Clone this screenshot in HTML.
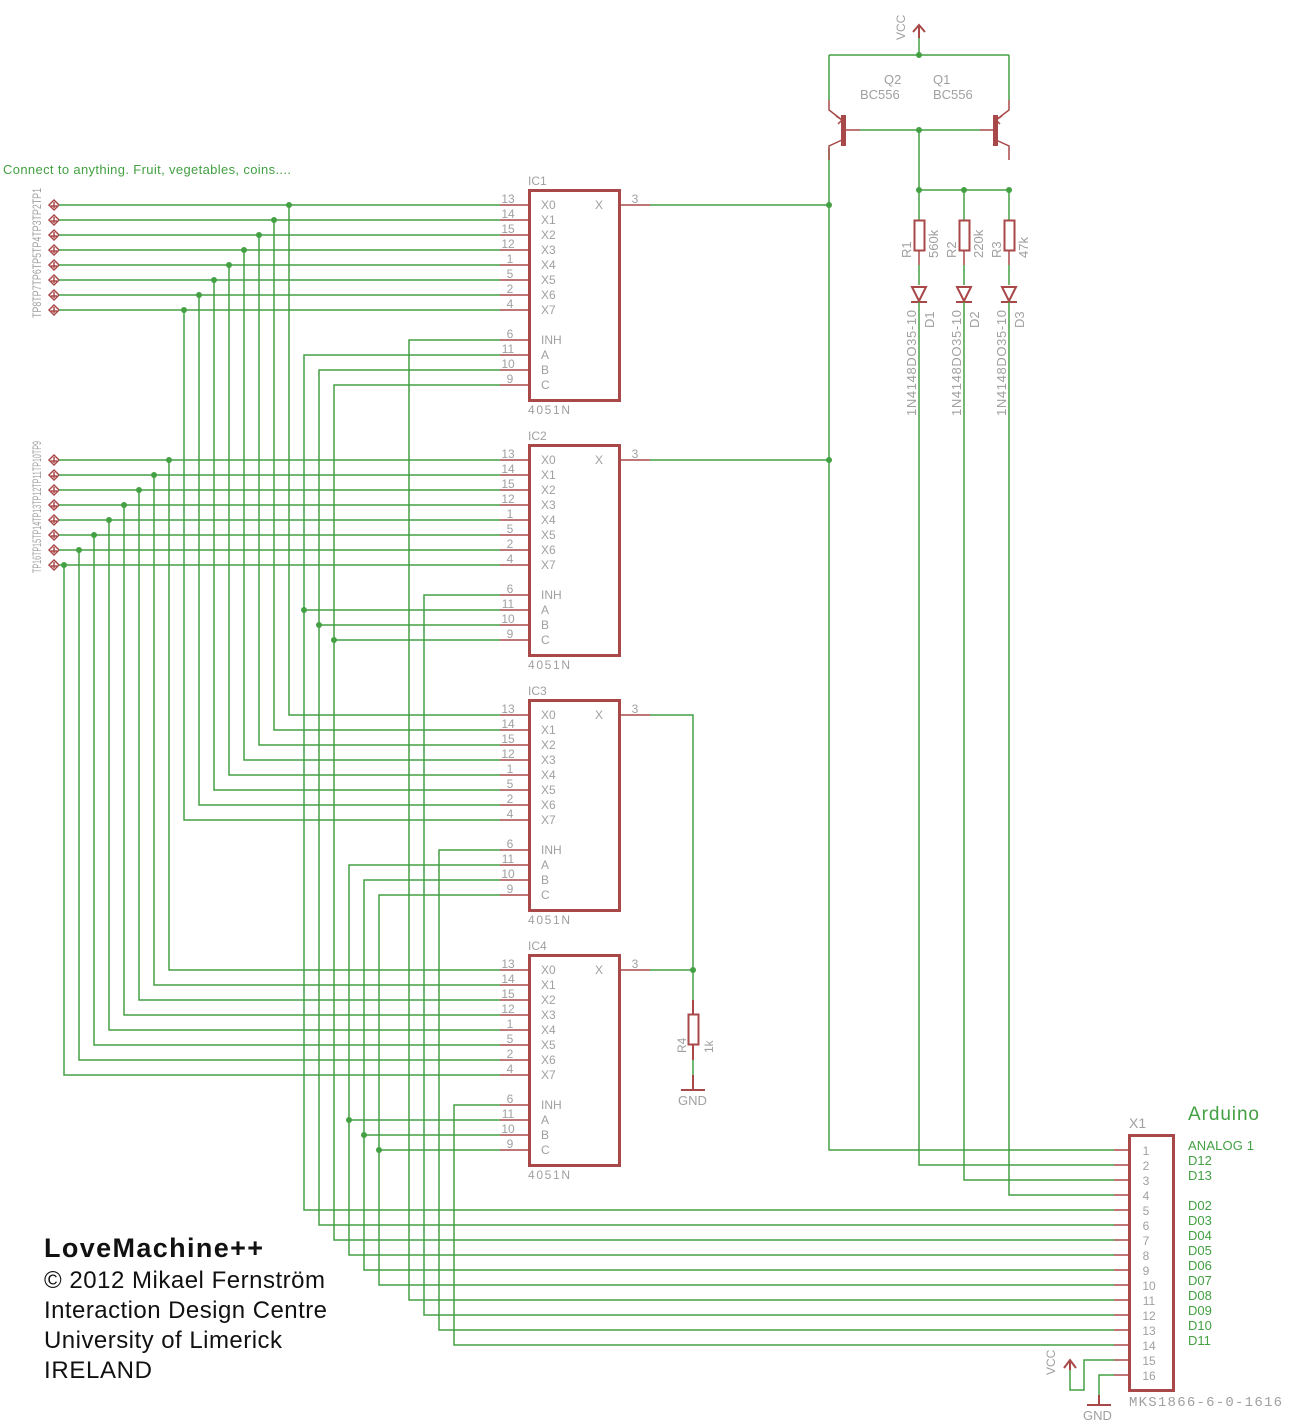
<!DOCTYPE html>
<html><head><meta charset="utf-8"><style>
html,body{margin:0;padding:0;background:#fff;}
svg{display:block;}
.g{stroke:#43a043;stroke-width:1.5;fill:none;}
.r{stroke:#a84848;stroke-width:1.5;fill:none;}
.rb{stroke:#a84848;stroke-width:3;fill:none;}
.t{font-family:"Liberation Sans",sans-serif;font-size:12px;fill:#a0a0a0;}
.tn{font-family:"Liberation Sans",sans-serif;font-size:12px;fill:#a0a0a0;text-anchor:middle;}
.gt{font-family:"Liberation Sans",sans-serif;font-size:13px;fill:#43a043;}
.j{fill:#43a043;}
</style></head><body>
<svg width="1291" height="1426" viewBox="0 0 1291 1426" xmlns="http://www.w3.org/2000/svg">
<defs>
<g id="ic">
<rect x="529.5" y="190.5" width="90" height="210" class="rb"/>
<path class="r" d="M500 205H529M500 220H529M500 235H529M500 250H529M500 265H529M500 280H529M500 295H529M500 310H529M500 340H529M500 355H529M500 370H529M500 385H529M619 205H650"/>
<g class="tn">
<text x="508" y="203">13</text><text x="508" y="218">14</text><text x="508" y="233">15</text><text x="508" y="248">12</text>
<text x="510" y="263">1</text><text x="510" y="278">5</text><text x="510" y="293">2</text><text x="510" y="308">4</text>
<text x="510" y="338">6</text><text x="508" y="353">11</text><text x="508" y="368">10</text><text x="510" y="383">9</text>
<text x="635" y="203">3</text>
</g>
<g class="t">
<text x="541" y="209">X0</text><text x="541" y="224">X1</text><text x="541" y="239">X2</text><text x="541" y="254">X3</text>
<text x="541" y="269">X4</text><text x="541" y="284">X5</text><text x="541" y="299">X6</text><text x="541" y="314">X7</text>
<text x="541" y="344">INH</text><text x="541" y="359">A</text><text x="541" y="374">B</text><text x="541" y="389">C</text>
<text x="595" y="209">X</text><text x="528" y="414" textLength="42">4051N</text>
</g>
</g>
<g id="tp">
<path class="r" d="M54 -5L59 0L54 5L49 0Z M51 1H57 M54 -3V3"/>
</g>
</defs>

<use href="#ic"/>
<use href="#ic" y="255"/>
<use href="#ic" y="510"/>
<use href="#ic" y="765"/>
<g class="t"><text x="528" y="185">IC1</text><text x="528" y="440">IC2</text><text x="528" y="695">IC3</text><text x="528" y="950">IC4</text></g>

<g>
<use href="#tp" y="205"/><use href="#tp" y="220"/><use href="#tp" y="235"/><use href="#tp" y="250"/>
<use href="#tp" y="265"/><use href="#tp" y="280"/><use href="#tp" y="295"/><use href="#tp" y="310"/>
<use href="#tp" y="460"/><use href="#tp" y="475"/><use href="#tp" y="490"/><use href="#tp" y="505"/>
<use href="#tp" y="520"/><use href="#tp" y="535"/><use href="#tp" y="550"/><use href="#tp" y="565"/>
</g>
<text class="t" transform="translate(41,318) rotate(-90)" textLength="130" lengthAdjust="spacingAndGlyphs">TP8TP7TP6TP5TP4TP3TP2TP1</text>
<text class="t" transform="translate(41,573) rotate(-90)" textLength="132" lengthAdjust="spacingAndGlyphs">TP16TP15TP14TP13TP12TP11TP10TP9</text>
<text class="gt" x="3" y="174" textLength="288">Connect to anything. Fruit, vegetables, coins....</text>

<path class="g" d="M59 205H500M59 220H500M59 235H500M59 250H500M59 265H500M59 280H500M59 295H500M59 310H500
M289 205V715H500M274 220V730H500M259 235V745H500M244 250V760H500M229 265V775H500M214 280V790H500M199 295V805H500M184 310V820H500
M59 460H500M59 475H500M59 490H500M59 505H500M59 520H500M59 535H500M59 550H500M59 565H500
M169 460V970H500M154 475V985H500M139 490V1000H500M124 505V1015H500M109 520V1030H500M94 535V1045H500M79 550V1060H500M64 565V1075H500"/>
<g class="j">
<circle cx="289" cy="205" r="3"/><circle cx="274" cy="220" r="3"/><circle cx="259" cy="235" r="3"/><circle cx="244" cy="250" r="3"/>
<circle cx="229" cy="265" r="3"/><circle cx="214" cy="280" r="3"/><circle cx="199" cy="295" r="3"/><circle cx="184" cy="310" r="3"/>
<circle cx="169" cy="460" r="3"/><circle cx="154" cy="475" r="3"/><circle cx="139" cy="490" r="3"/><circle cx="124" cy="505" r="3"/>
<circle cx="109" cy="520" r="3"/><circle cx="94" cy="535" r="3"/><circle cx="79" cy="550" r="3"/><circle cx="64" cy="565" r="3"/>
</g>

<path class="g" d="M500 340H409V1300H1114
M500 355H304V1210H1114M500 370H319V1225H1114M500 385H334V1240H1114
M500 595H424V1315H1114M500 610H304M500 625H319M500 640H334
M500 850H439V1330H1114M500 865H349V1255H1114M500 880H364V1270H1114M500 895H379V1285H1114
M500 1105H454V1345H1114M500 1120H349M500 1135H364M500 1150H379"/>
<g class="j">
<circle cx="304" cy="610" r="3"/><circle cx="319" cy="625" r="3"/><circle cx="334" cy="640" r="3"/>
<circle cx="349" cy="1120" r="3"/><circle cx="364" cy="1135" r="3"/><circle cx="379" cy="1150" r="3"/>
</g>

<path class="g" d="M650 205H829M650 460H829M829 148V1150H1114M650 715H693V1013M650 970H693M693 1045V1075"/>
<g class="j"><circle cx="829" cy="205" r="3"/><circle cx="829" cy="460" r="3"/><circle cx="693" cy="970" r="3"/></g>
<rect x="688.5" y="1014.5" width="10" height="30" class="r" style="stroke-width:2"/>
<path class="r" d="M693 1000V1014M693 1045V1060M693 1075V1090M681 1090H705" style="stroke-width:2"/>
<text class="t" transform="translate(686,1053) rotate(-90)">R4</text>
<text class="t" transform="translate(713,1053) rotate(-90)">1k</text>
<text class="t" x="678" y="1105" style="font-size:13px">GND</text>

<path class="r" d="M919 38V25M913 32L919 25L925 32" style="stroke-width:2"/>
<text class="t" transform="translate(905,40) rotate(-90)">VCC</text>
<path class="g" d="M919 38V55M829 55H1009M829 55V100M1009 55V100M860 130H980M919 130V190M919 190H1009M964 190V205M919 190V205M1009 190V205"/>
<g class="j"><circle cx="919" cy="55" r="3"/><circle cx="919" cy="130" r="3"/><circle cx="919" cy="190" r="3"/><circle cx="964" cy="190" r="3"/><circle cx="1009" cy="190" r="3"/></g>
<path class="r" d="M829 100V110L842 120M836 116L842 120L838 124 M842 140L829 146V160 M846 130H860"/>
<path class="r" d="M1009 100V110L996 120M1002 116L996 120L1000 124 M996 140L1009 146V160 M994 130H980"/>
<rect x="841" y="115" width="5" height="31" fill="#a84848"/>
<rect x="993" y="115" width="5" height="31" fill="#a84848"/>
<g class="t" style="font-size:13px">
<text x="884" y="84">Q2</text><text x="860" y="99">BC556</text>
<text x="933" y="84">Q1</text><text x="933" y="99">BC556</text>
</g>

<g>
<path class="g" d="M919 205V220M964 205V220M1009 205V220M919 265V285M964 265V285M1009 265V285"/>
<path class="r" d="M919 250V265M964 250V265M1009 250V265" />
<rect x="914.5" y="220.5" width="10" height="30" class="r" style="stroke-width:2"/>
<rect x="959.5" y="220.5" width="10" height="30" class="r" style="stroke-width:2"/>
<rect x="1004.5" y="220.5" width="10" height="30" class="r" style="stroke-width:2"/>
<path class="r" style="stroke-width:2" d="M912 287H926L919 301ZM911 302H927M957 287H971L964 301ZM956 302H972M1002 287H1016L1009 301ZM1001 302H1017"/>
<path class="g" d="M919 302V1165H1114M964 302V1180H1114M1009 302V1195H1114"/>
<g class="t" style="font-size:13px">
<text transform="translate(911,258) rotate(-90)">R1</text><text transform="translate(938,258) rotate(-90)">560k</text>
<text transform="translate(956,258) rotate(-90)">R2</text><text transform="translate(983,258) rotate(-90)">220k</text>
<text transform="translate(1001,258) rotate(-90)">R3</text><text transform="translate(1028,258) rotate(-90)">47k</text>
<text transform="translate(916,416) rotate(-90)" textLength="106">1N4148DO35-10</text><text transform="translate(934,328) rotate(-90)">D1</text>
<text transform="translate(961,416) rotate(-90)" textLength="106">1N4148DO35-10</text><text transform="translate(979,328) rotate(-90)">D2</text>
<text transform="translate(1006,416) rotate(-90)" textLength="106">1N4148DO35-10</text><text transform="translate(1024,328) rotate(-90)">D3</text>
</g>
</g>

<rect x="1129.5" y="1135.5" width="44" height="255" class="rb"/>
<path class="r" d="M1114 1150H1129M1114 1165H1129M1114 1180H1129M1114 1195H1129M1114 1210H1129M1114 1225H1129M1114 1240H1129M1114 1255H1129M1114 1270H1129M1114 1285H1129M1114 1300H1129M1114 1315H1129M1114 1330H1129M1114 1345H1129M1114 1360H1129M1114 1375H1129"/>
<g class="tn">
<text x="1146" y="1155">1</text><text x="1146" y="1170">2</text><text x="1146" y="1185">3</text><text x="1146" y="1200">4</text>
<text x="1146" y="1215">5</text><text x="1146" y="1230">6</text><text x="1146" y="1245">7</text><text x="1146" y="1260">8</text>
<text x="1146" y="1275">9</text><text x="1149" y="1290">10</text><text x="1149" y="1305">11</text><text x="1149" y="1320">12</text>
<text x="1149" y="1335">13</text><text x="1149" y="1350">14</text><text x="1149" y="1365">15</text><text x="1149" y="1380">16</text>
</g>
<text class="t" x="1129" y="1128" style="font-size:14px">X1</text>
<text class="t" x="1129" y="1406" style="font-size:14px;font-family:'Liberation Mono',monospace" textLength="153">MKS1866-6-0-1616</text>
<text x="1188" y="1120" style="font-family:'Liberation Sans',sans-serif;font-size:19px;fill:#43a043" textLength="71">Arduino</text>
<g class="gt">
<text x="1188" y="1150" textLength="66">ANALOG 1</text><text x="1188" y="1165">D12</text><text x="1188" y="1180">D13</text>
<text x="1188" y="1210">D02</text><text x="1188" y="1225">D03</text><text x="1188" y="1240">D04</text><text x="1188" y="1255">D05</text>
<text x="1188" y="1270">D06</text><text x="1188" y="1285">D07</text><text x="1188" y="1300">D08</text><text x="1188" y="1315">D09</text>
<text x="1188" y="1330">D10</text><text x="1188" y="1345">D11</text>
</g>
<path class="g" d="M1114 1360H1084V1390H1070V1370M1114 1375H1099V1395"/>
<path class="r" style="stroke-width:2" d="M1070 1370V1360M1064 1368L1070 1360L1076 1368M1099 1395V1405M1087 1405H1111"/>
<text class="t" transform="translate(1055,1375) rotate(-90)">VCC</text>
<text class="t" x="1083" y="1420" style="font-size:13px">GND</text>

<g style="font-family:'Liberation Sans',sans-serif;fill:#111">
<text x="44" y="1257" style="font-size:27px;font-weight:bold" textLength="219">LoveMachine++</text>
<text x="44" y="1288" style="font-size:24px" textLength="281">© 2012 Mikael Fernström</text>
<text x="44" y="1318" style="font-size:24px" textLength="283">Interaction Design Centre</text>
<text x="44" y="1348" style="font-size:24px" textLength="238">University of Limerick</text>
<text x="44" y="1378" style="font-size:24px" textLength="108">IRELAND</text>
</g>
</svg>
</body></html>
